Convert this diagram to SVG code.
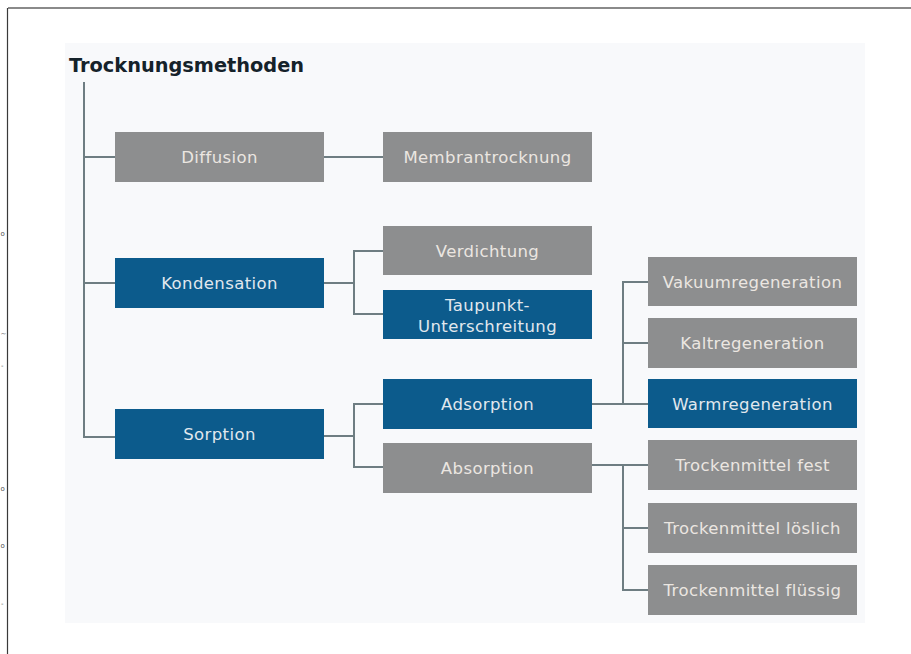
<svg xmlns="http://www.w3.org/2000/svg" width="911" height="654" viewBox="0 0 911 654">
  <style>
    .box-grey { fill: #8d8e8f; }
    .box-blue { fill: #0c5b8c; }
    .lbl { font-family: "DejaVu Sans", "Liberation Sans", sans-serif; font-size: 16.5px; letter-spacing: 0.4px; text-anchor: middle; }
    .lbl-grey { fill: #ebe6e1; }
    .lbl-blue { fill: #e1e8ee; }
    .title { font-family: "DejaVu Sans", "Liberation Sans", sans-serif; font-size: 19.5px; font-weight: bold; fill: #15222a; }
    .conn { fill: none; stroke: #6e7d82; stroke-width: 2; }
    .edge { font-family: "DejaVu Sans", sans-serif; font-size: 7px; fill: #555; }
  </style>

  <!-- page frame -->
  <rect x="0" y="0" width="911" height="654" fill="#ffffff"/>
  <line x1="8" y1="8" x2="911" y2="8" stroke="#8a8a8a" stroke-width="2"/>
  <line x1="7.5" y1="8" x2="7.5" y2="654" stroke="#3a3a3a" stroke-width="1.2"/>

  <!-- fragments of neighbouring text at the page edge -->
  <g class="edge">
    <text x="0.5" y="236">o</text>
    <text x="0.5" y="336">~</text>
    <text x="1" y="368">-</text>
    <text x="0.5" y="491">o</text>
    <text x="0.5" y="548">o</text>
    <text x="1" y="606">-</text>
  </g>

  <!-- background panel -->
  <rect x="65" y="43" width="800" height="580" fill="#f8f9fb"/>

  <!-- title -->
  <g id="title">
    <text class="title" x="69" y="72" textLength="235" lengthAdjust="spacingAndGlyphs">Trocknungsmethoden</text>
  </g>

  <!-- connectors -->
  <g id="connectors" class="conn">
    <!-- root trunk -->
    <path d="M84 82 V437 H115"/>
    <path d="M84 157 H115"/>
    <path d="M84 283 H115"/>
    <!-- Diffusion -> Membrantrocknung -->
    <path d="M324 157 H383"/>
    <!-- Kondensation -->
    <path d="M324 283 H354"/>
    <path d="M383 251 H354 V314 H383"/>
    <!-- Sorption -->
    <path d="M324 436 H354"/>
    <path d="M383 404 H354 V467 H383"/>
    <!-- Adsorption -->
    <path d="M592 404 H648"/>
    <path d="M648 282 H623 V404"/>
    <path d="M623 343 H648"/>
    <!-- Absorption -->
    <path d="M592 465 H648"/>
    <path d="M623 465 V590 H648"/>
    <path d="M623 528 H648"/>
  </g>

  <!-- level 1 -->
  <g id="diffusion">
    <rect class="box-grey" x="115" y="132" width="209" height="50"/>
    <text class="lbl lbl-grey" x="219.5" y="163">Diffusion</text>
  </g>
  <g id="kondensation">
    <rect class="box-blue" x="115" y="258" width="209" height="50"/>
    <text class="lbl lbl-blue" x="219.5" y="289">Kondensation</text>
  </g>
  <g id="sorption">
    <rect class="box-blue" x="115" y="409" width="209" height="50"/>
    <text class="lbl lbl-blue" x="219.5" y="440">Sorption</text>
  </g>

  <!-- level 2 -->
  <g id="membrantrocknung">
    <rect class="box-grey" x="383" y="132" width="209" height="50"/>
    <text class="lbl lbl-grey" x="487.5" y="163">Membrantrocknung</text>
  </g>
  <g id="verdichtung">
    <rect class="box-grey" x="383" y="226" width="209" height="49"/>
    <text class="lbl lbl-grey" x="487.5" y="257">Verdichtung</text>
  </g>
  <g id="taupunkt">
    <rect class="box-blue" x="383" y="290" width="209" height="49"/>
    <text class="lbl lbl-blue" x="487.5" y="311">Taupunkt-</text>
    <text class="lbl lbl-blue" x="487.5" y="332">Unterschreitung</text>
  </g>
  <g id="adsorption">
    <rect class="box-blue" x="383" y="379" width="209" height="50"/>
    <text class="lbl lbl-blue" x="487.5" y="410">Adsorption</text>
  </g>
  <g id="absorption">
    <rect class="box-grey" x="383" y="443" width="209" height="50"/>
    <text class="lbl lbl-grey" x="487.5" y="474">Absorption</text>
  </g>

  <!-- level 3 -->
  <g id="vakuumregeneration">
    <rect class="box-grey" x="648" y="257" width="209" height="49"/>
    <text class="lbl lbl-grey" x="752.5" y="288">Vakuumregeneration</text>
  </g>
  <g id="kaltregeneration">
    <rect class="box-grey" x="648" y="318" width="209" height="50"/>
    <text class="lbl lbl-grey" x="752.5" y="349">Kaltregeneration</text>
  </g>
  <g id="warmregeneration">
    <rect class="box-blue" x="648" y="379" width="209" height="49"/>
    <text class="lbl lbl-blue" x="752.5" y="410">Warmregeneration</text>
  </g>
  <g id="trockenmittel-fest">
    <rect class="box-grey" x="648" y="440" width="209" height="50"/>
    <text class="lbl lbl-grey" x="752.5" y="471">Trockenmittel fest</text>
  </g>
  <g id="trockenmittel-loeslich">
    <rect class="box-grey" x="648" y="503" width="209" height="50"/>
    <text class="lbl lbl-grey" x="752.5" y="534">Trockenmittel löslich</text>
  </g>
  <g id="trockenmittel-fluessig">
    <rect class="box-grey" x="648" y="565" width="209" height="50"/>
    <text class="lbl lbl-grey" x="752.5" y="596">Trockenmittel flüssig</text>
  </g>
</svg>
